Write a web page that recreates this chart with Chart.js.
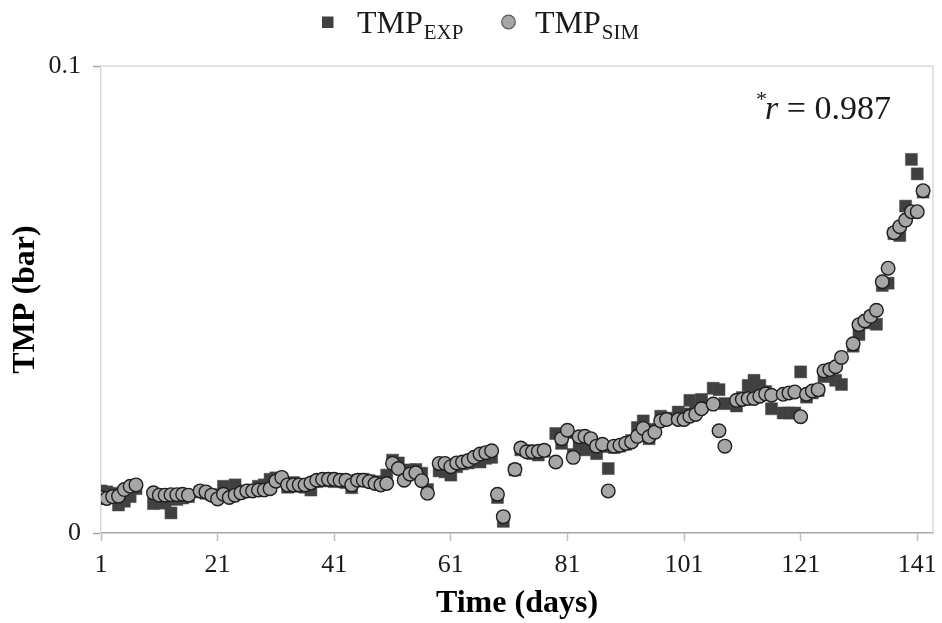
<!DOCTYPE html>
<html><head><meta charset="utf-8">
<script src="https://cdn.jsdelivr.net/npm/chart.js@4/dist/chart.umd.min.js"></script>
<style>html,body{margin:0;padding:0;background:#fff}#wrap{width:942px;height:623px}</style>
</head><body><div id="wrap"><canvas id="c" width="942" height="623"></canvas></div>
<script>
const days = [1,2,3,4,5,6,7,8,9,10,11,12,13,14,15,16,17,18,19,20,21,22,23,24,25,26,27,28,29,30,
31,32,33,34,35,36,37,38,39,40,41,42,43,44,45,46,47,48,49,50,51,52,53,54,55,56,57,58,59,60,
61,62,63,64,65,66,67,68,69,70,71,72,73,74,75,76,77,78,79,80,81,82,83,84,85,86,87,88,89,90,
91,92,93,94,95,96,97,98,99,100,101,102,103,104,105,106,107,108,109,110,111,112,113,114,115,116,117,118,119,120,
121,122,123,124,125,126,127,128,129,130,131,132,133,134,135,136,137,138,139,140,141,142];

const tmpExp = [
.0090,.0088,.0085,.0060,.0068,.0078,.0095,null,null,.0063,
.0064,.0065,.0043,.0072,.0075,.0078,null,.0088,.0085,.0082,
.0080,.0100,.0082,.0103,.0088,.0090,.0092,.0100,.0103,.0115,
.0118,.0115,.0098,.0108,.0100,.0098,.0092,.0110,.0112,.0112,
.0110,.0112,.0108,.0097,.0113,.0115,.0112,.0110,.0106,.0124,
.0156,.0150,.0120,.0135,.0136,.0128,.0093,null,.0133,.0131,
.0124,.0142,.0148,.0150,.0156,.0152,.0160,.0162,.0076,.0025,
null,.0135,.0178,.0176,.0170,.0167,.0175,null,.0213,.0192,
.0215,.0168,.0186,.0178,.0181,.0170,.0185,.0138,.0183,.0186,
.0190,.0198,.0226,.0240,.0202,.0222,.0250,.0246,null,.0259,
.0255,.0284,.0262,.0286,null,.0310,.0307,.0277,null,.0272,
.0290,.0316,.0327,.0316,.0303,.0266,null,.0257,.0257,.0257,
.0345,.0291,.0300,.0305,.0335,.0345,.0327,.0318,null,.0400,
.0425,.0450,.0462,.0447,.0530,.0535,.0641,.0637,.0700,.0800,
.0769,.0730];

const tmpSim = [
.0076,.0074,.0078,.0079,.0093,.0100,.0103,null,null,.0086,
.0081,.0081,.0082,.0082,.0083,.0081,null,.0090,.0088,.0081,
.0073,.0083,.0076,.0081,.0086,.0090,.0090,.0092,.0092,.0095,
.0111,.0119,.0103,.0103,.0103,.0103,.0107,.0113,.0115,.0115,
.0115,.0113,.0113,.0103,.0113,.0113,.0110,.0106,.0103,.0106,
.0149,.0138,.0113,.0126,.0129,.0112,.0085,null,.0149,.0149,
.0142,.0150,.0152,.0155,.0162,.0169,.0172,.0176,.0083,.0035,
null,.0136,.0182,.0174,.0174,.0175,.0177,null,.0152,.0202,
.0220,.0162,.0206,.0207,.0202,.0186,.0190,.0090,.0186,.0188,
.0192,.0195,.0207,.0224,.0206,.0216,.0240,.0243,null,.0243,
.0243,.0250,.0254,.0266,null,.0276,.0219,.0186,null,.0284,
.0286,.0288,.0288,.0293,.0298,.0295,null,.0297,.0300,.0302,
.0249,.0297,.0304,.0307,.0347,.0350,.0356,.0376,null,.0405,
.0446,.0454,.0464,.0477,.0538,.0567,.0643,.0656,.0670,.0688,
.0688,.0733];

const xTickValues = [1,21,41,61,81,101,121,141];
const yTickValues = [0, 0.1];
const seriesNames = ['TMP', 'TMP'];
const seriesSubs = ['EXP', 'SIM'];
const corrLabel = '0.987';

const SERIF = '"Liberation Serif", "Times New Roman", serif';
const toPoints = arr => days.map((d,i)=>({x:d, y:arr[i]})).filter(p=>p.y!==null);

const decor = {
  id:'decor',
  beforeDatasetsDraw(chart){
    const ctx=chart.ctx, a=chart.chartArea;
    ctx.save();
    ctx.strokeStyle='#d9d9d9'; ctx.lineWidth=1.5;
    ctx.beginPath(); ctx.moveTo(a.left,a.top); ctx.lineTo(a.right,a.top); ctx.lineTo(a.right,a.bottom); ctx.stroke();
    ctx.restore();
  },
  afterDraw(chart){
    const ctx=chart.ctx;
    ctx.save();
    ctx.textBaseline='alphabetic';
    // legend
    ctx.fillStyle='#404040';
    ctx.fillRect(322,16.5,11.5,11.5);
    ctx.beginPath(); ctx.arc(508.5,22,6.8,0,Math.PI*2);
    ctx.fillStyle='#a6a6a6'; ctx.fill(); ctx.lineWidth=1.2; ctx.strokeStyle='#595959'; ctx.stroke();
    const drawLabel=(x,main,sub)=>{
      ctx.fillStyle='#1a1a1a';
      ctx.font='32px '+SERIF; ctx.fillText(main,x,33);
      const w=ctx.measureText(main).width;
      ctx.font='21px '+SERIF; ctx.fillText(sub,x+w+1,39);
    };
    drawLabel(357,seriesNames[0],seriesSubs[0]);
    drawLabel(535,seriesNames[1],seriesSubs[1]);
    // annotation
    ctx.fillStyle='#1a1a1a';
    ctx.font='22px '+SERIF; ctx.fillText('*',756,106);
    ctx.font='italic 34px '+SERIF; ctx.fillText('r',765,119);
    const wr=ctx.measureText('r').width;
    ctx.font='34px '+SERIF; ctx.fillText(' = '+corrLabel,765+wr,119);
    ctx.restore();
  }
};

new Chart(document.getElementById('c'),{
  type:'scatter',
  data:{datasets:[
    {label:'TMP EXP', data:toPoints(tmpExp), order:2, pointStyle:'rect', pointRadius:8.5,
     backgroundColor:'#404040', borderColor:'#4d4d4d', borderWidth:0.5},
    {label:'TMP SIM', data:toPoints(tmpSim), order:1, pointStyle:'circle', pointRadius:6.8,
     backgroundColor:'#a6a6a6', borderColor:'#1f1f1f', borderWidth:1.4}
  ]},
  options:{
    responsive:false, animation:false, devicePixelRatio:1,
    layout:{padding:{top:66,right:5,left:0,bottom:0}},
    plugins:{legend:{display:false}, tooltip:{enabled:false}},
    scales:{
      x:{type:'linear', min:1, max:143.7,
        afterBuildTicks:s=>{s.ticks=xTickValues.map(v=>({value:v}));},
        afterFit:s=>{s.height=90; s.paddingLeft=0; s.paddingRight=0;},
        grid:{drawOnChartArea:false, drawTicks:true, tickLength:8, tickColor:'#bfbfbf', tickWidth:1.5},
        border:{display:true, color:'#a6a6a6', width:1.5},
        ticks:{font:{family:SERIF,size:26}, color:'#1a1a1a', padding:9, maxRotation:0, autoSkip:false,
               callback:v=>String(v)},
        title:{display:true, text:'Time (days)', font:{family:SERIF,size:32,weight:'bold'}, color:'#000',
               padding:{top:0,bottom:0}}
      },
      y:{min:0, max:0.1,
        afterBuildTicks:s=>{s.ticks=yTickValues.map(v=>({value:v}));},
        afterFit:s=>{s.width=101; s.paddingTop=0; s.paddingBottom=0;},
        grid:{drawOnChartArea:false, drawTicks:true, tickLength:8, tickColor:'#a6a6a6', tickWidth:1.5},
        border:{display:true, color:'#d9d9d9', width:1.5},
        ticks:{font:{family:SERIF,size:26}, color:'#1a1a1a', padding:12, callback:v=>String(v)},
        title:{display:true, text:'TMP (bar)', font:{family:SERIF,size:32,weight:'bold'}, color:'#000',
               padding:{top:7,bottom:0}}
      }
    }
  },
  plugins:[decor]
});
</script></body></html>
